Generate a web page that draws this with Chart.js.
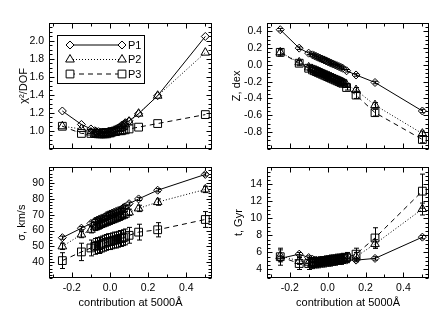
<!DOCTYPE html>
<html>
<head>
<meta charset="utf-8">
<script src="https://cdn.jsdelivr.net/npm/chart.js@4.4.0/dist/chart.umd.min.js"></script>
<style>
  body { margin: 0; background: #fff; width: 436px; height: 312px; position: relative; overflow: hidden; }
  canvas { position: absolute; }
</style>
</head>
<body>
<canvas id="chiChart" width="220" height="160" style="left:0;top:0"></canvas>
<canvas id="sigChart" width="220" height="156" style="left:0;top:156px"></canvas>
<canvas id="metChart" width="216" height="160" style="left:220px;top:0"></canvas>
<canvas id="ageChart" width="216" height="156" style="left:220px;top:156px"></canvas>
<script>
// contribution at 5000A (shared x values of every panel)
const contrib = [-0.25, -0.15, -0.10, -0.08, -0.07, -0.06, -0.05, -0.04, -0.03, -0.02, -0.01, 0.00,
                 0.01, 0.02, 0.03, 0.04, 0.05, 0.06, 0.07, 0.08, 0.10, 0.15, 0.25, 0.50];
const xTickVals = [-0.2, 0.0, 0.2, 0.4];

// chi^2/DOF
const chiP1 = [1.22, 1.07, 1.02, 1.00, 0.99, 0.99, 0.98, 0.98, 0.98, 0.98, 0.99, 0.99, 1.00, 1.01, 1.02, 1.03, 1.04, 1.06, 1.07, 1.09, 1.11, 1.19, 1.39, 2.05];
const chiP2 = [1.05, 1.02, 0.98, 0.96, 0.96, 0.95, 0.95, 0.95, 0.95, 0.95, 0.96, 0.96, 0.97, 0.98, 0.99, 1.00, 1.02, 1.03, 1.05, 1.07, 1.10, 1.19, 1.39, 1.87];
const chiP3 = [1.05, 0.97, 0.97, 0.97, 0.97, 0.97, 0.97, 0.97, 0.98, 0.98, 0.98, 0.98, 0.99, 0.99, 0.99, 1.00, 1.00, 1.00, 1.01, 1.01, 1.02, 1.04, 1.08, 1.18];
const chiTicks = [1.0, 1.2, 1.4, 1.6, 1.8, 2.0];

// Z, dex
const zP1 = [0.42, 0.20, 0.14, 0.12, 0.11, 0.10, 0.09, 0.08, 0.07, 0.06, 0.05, 0.04, 0.03, 0.02, 0.01, 0.00, -0.01, -0.02, -0.03, -0.04, -0.07, -0.12, -0.21, -0.55];
const zP2 = [0.15, 0.03, -0.03, -0.05, -0.06, -0.07, -0.08, -0.09, -0.10, -0.11, -0.12, -0.13, -0.14, -0.15, -0.16, -0.17, -0.18, -0.19, -0.20, -0.21, -0.24, -0.30, -0.48, -0.82];
const zP3 = [0.15, 0.02, -0.04, -0.06, -0.07, -0.08, -0.09, -0.10, -0.11, -0.12, -0.13, -0.14, -0.15, -0.16, -0.17, -0.18, -0.19, -0.20, -0.21, -0.22, -0.27, -0.36, -0.57, -0.89];
const zErrP1 = [0.015, 0.015, 0.015, 0.015, 0.015, 0.015, 0.015, 0.015, 0.015, 0.015, 0.015, 0.015, 0.015, 0.015, 0.015, 0.015, 0.015, 0.015, 0.015, 0.015, 0.015, 0.015, 0.015, 0.02];
const zErrP2 = [0.03, 0.02, 0.02, 0.02, 0.02, 0.02, 0.02, 0.02, 0.02, 0.02, 0.02, 0.02, 0.02, 0.02, 0.02, 0.02, 0.02, 0.02, 0.02, 0.02, 0.02, 0.03, 0.03, 0.03];
const zErrP3 = [0.045, 0.03, 0.03, 0.03, 0.03, 0.03, 0.03, 0.03, 0.03, 0.03, 0.03, 0.03, 0.03, 0.03, 0.03, 0.03, 0.03, 0.03, 0.03, 0.03, 0.03, 0.04, 0.04, 0.04];
const zTicks = [-0.8, -0.6, -0.4, -0.2, 0.0, 0.2, 0.4];

// sigma, km/s
const sigP1 = [55.5, 61.5, 64.5, 66, 66.5, 67, 67.5, 68, 68.5, 69.5, 70, 70.5, 71, 71.5, 72, 72.5, 73, 73.5, 74.5, 75, 77, 80, 85.5, 95.5];
const sigP2 = [50, 57.5, 60.5, 62, 62.5, 63, 63.5, 64, 64.5, 65, 65.5, 66, 66.5, 67, 67.5, 68, 68.5, 69, 69.5, 70, 71.5, 74, 78, 86];
const sigP3 = [41, 46.5, 49, 50, 50.5, 50.5, 51, 51.5, 52, 52.5, 53, 53, 53.5, 54, 54, 54.5, 55, 55, 55.5, 56, 57, 59, 60.5, 67];
const sigErrP1 = [1, 1, 1, 1, 1, 1, 1, 1, 1, 1, 1, 1, 1, 1, 1, 1, 1, 1, 1, 1, 1, 1, 1, 1];
const sigErrP2 = [2, 2, 2, 2, 2, 2, 2, 2, 2, 2, 2, 2, 2, 2, 2, 2, 2, 2, 2, 2, 2, 2, 2, 2];
const sigErrP3 = [5, 5.5, 5, 5, 5, 5, 5, 5, 5, 5, 5, 5, 5, 5, 5, 5, 5, 5, 5, 5, 5, 5, 4.5, 5];
const sigTicks = [40, 50, 60, 70, 80, 90];

// t, Gyr
const ageP1 = [5.3, 5.8, 5.4, 5.2, 5.1, 5.1, 5.0, 5.0, 5.0, 5.0, 5.0, 5.0, 5.0, 5.0, 5.0, 5.0, 5.0, 5.0, 5.1, 5.1, 5.1, 5.1, 5.3, 7.8];
const ageP2 = [5.6, 5.0, 4.8, 4.8, 4.8, 4.8, 4.9, 4.9, 4.9, 5.0, 5.0, 5.0, 5.1, 5.1, 5.1, 5.2, 5.2, 5.2, 5.3, 5.3, 5.4, 5.5, 7.0, 11.1];
const ageP3 = [5.5, 4.7, 4.7, 4.7, 4.8, 4.8, 4.8, 4.9, 4.9, 4.9, 5.0, 5.0, 5.0, 5.1, 5.1, 5.1, 5.2, 5.2, 5.2, 5.3, 5.4, 5.8, 7.7, 13.2];
const ageErrP1 = [0.2, 0.2, 0.2, 0.2, 0.2, 0.2, 0.2, 0.2, 0.2, 0.2, 0.2, 0.2, 0.2, 0.2, 0.2, 0.2, 0.2, 0.2, 0.2, 0.2, 0.2, 0.2, 0.2, 0.2];
const ageErrP2 = [0.7, 0.4, 0.4, 0.4, 0.4, 0.4, 0.4, 0.4, 0.4, 0.4, 0.4, 0.4, 0.4, 0.4, 0.4, 0.4, 0.4, 0.4, 0.4, 0.4, 0.4, 0.5, 0.5, 0.7];
const ageErrP3 = [1.0, 0.7, 0.7, 0.6, 0.6, 0.6, 0.6, 0.6, 0.6, 0.6, 0.6, 0.6, 0.6, 0.6, 0.6, 0.6, 0.6, 0.6, 0.6, 0.6, 0.6, 0.7, 1.2, 2.0];
const ageTicks = [4, 6, 8, 10, 12, 14];

const seriesNames = ['P1', 'P2', 'P3'];

const FONT = '"Liberation Sans", Arial, Helvetica, sans-serif';
Chart.defaults.font.family = FONT;
Chart.defaults.font.size = 10.5;
Chart.defaults.color = '#000';

// marker / line look of P1, P2, P3
const looks = [
    { pointStyle: 'rectRot', radius: 4, dash: [] },
    { pointStyle: 'triangle', radius: 5, dash: [1, 2] },
    { pointStyle: 'rect', radius: 5.5, dash: [5, 4] }
];

// vertical error bars with small caps
const errorBars = {
    id: 'errorBars',
    afterDatasetsDraw(chart) {
        const ctx = chart.ctx;
        const xs = chart.scales.x, ys = chart.scales.y;
        chart.data.datasets.forEach(ds => {
            if (!ds.errors) return;
            ctx.save();
            ctx.strokeStyle = '#000';
            ctx.lineWidth = 1;
            ds.data.forEach((p, i) => {
                const e = ds.errors[i];
                const px = Math.round(xs.getPixelForValue(p.x)) + 0.5;
                const y1 = ys.getPixelForValue(p.y - e);
                const y2 = ys.getPixelForValue(p.y + e);
                ctx.beginPath();
                ctx.moveTo(px, y1); ctx.lineTo(px, y2);
                ctx.moveTo(px - 2.5, y1); ctx.lineTo(px + 2.5, y1);
                ctx.moveTo(px - 2.5, y2); ctx.lineTo(px + 2.5, y2);
                ctx.stroke();
            });
            ctx.restore();
        });
    }
};

// IDL-like box with inward ticks on all four sides
const frameBox = {
    id: 'frameBox',
    afterDraw(chart, args, opts) {
        const { ctx, chartArea: a } = chart;
        const xs = chart.scales.x, ys = chart.scales.y;
        const L = Math.round(a.left) + 0.5, R = Math.round(a.right) - 0.5;
        const T = Math.round(a.top) + 0.5, B = Math.round(a.bottom) - 0.5;
        ctx.save();
        ctx.strokeStyle = '#000';
        ctx.lineWidth = 1;
        ctx.strokeRect(L, T, R - L, B - T);
        ctx.beginPath();
        const xTick = (v, len) => {
            const px = Math.round(xs.getPixelForValue(v)) + 0.5;
            ctx.moveTo(px, B); ctx.lineTo(px, B - len);
            ctx.moveTo(px, T); ctx.lineTo(px, T + len);
        };
        const yTick = (v, len) => {
            const py = Math.round(ys.getPixelForValue(v)) + 0.5;
            ctx.moveTo(L, py); ctx.lineTo(L + len, py);
            ctx.moveTo(R, py); ctx.lineTo(R - len, py);
        };
        for (let v = -0.3; v <= 0.5001; v += 0.1) xTick(v, 3);
        xTickVals.forEach(v => xTick(v, 5));
        for (let v = Math.ceil(ys.min / opts.minor) * opts.minor; v <= ys.max + 1e-9; v += opts.minor) yTick(v, 3);
        opts.ticks.forEach(v => yTick(v, 5));
        ctx.stroke();
        ctx.restore();
    }
};

// legend box: symbol - line - symbol, name
const lineLegend = {
    id: 'lineLegend',
    afterDraw(chart, args, opts) {
        if (!opts.show) return;
        const { ctx, chartArea: a } = chart;
        const bx = a.left + 8, by = a.top + 12;
        ctx.save();
        ctx.strokeStyle = '#000';
        ctx.lineWidth = 1;
        ctx.strokeRect(Math.round(bx) + 0.5, Math.round(by) + 0.5, 87, 48);
        chart.data.datasets.forEach((ds, i) => {
            const y = by + 10 + i * 14.5;
            const x1 = bx + 13, x2 = bx + 65;
            ctx.setLineDash(ds.borderDash || []);
            ctx.beginPath();
            ctx.moveTo(x1, y); ctx.lineTo(x2, y);
            ctx.stroke();
            ctx.setLineDash([]);
            ctx.fillStyle = 'rgba(255,255,255,1)';
            [x1, x2].forEach(x => {
                Chart.helpers.drawPoint(ctx, {
                    pointStyle: ds.pointStyle, radius: ds.pointRadius,
                    borderWidth: 1, rotation: 0
                }, x, y);
            });
            ctx.fillStyle = '#000';
            ctx.font = '11px ' + FONT;
            ctx.textBaseline = 'middle';
            ctx.textAlign = 'left';
            ctx.fillText(ds.label, x2 + 6, y + 0.5);
        });
        ctx.restore();
    }
};

function makePanel(id, p) {
    const datasets = p.values.map((vals, i) => ({
        label: seriesNames[i],
        data: contrib.map((x, j) => ({ x: x, y: vals[j] })),
        errors: p.errors ? p.errors[i] : null,
        showLine: true,
        borderColor: '#000',
        borderWidth: 1,
        borderDash: looks[i].dash,
        backgroundColor: 'rgba(0,0,0,0)',
        pointStyle: looks[i].pointStyle,
        pointRadius: looks[i].radius,
        pointBorderColor: '#000',
        pointBackgroundColor: 'rgba(0,0,0,0)',
        pointBorderWidth: 1
    }));

    return new Chart(document.getElementById(id), {
        type: 'scatter',
        data: { datasets },
        options: {
            responsive: false,
            animation: false,
            events: [],
            layout: { autoPadding: false, padding: { top: p.top, right: p.right, left: 0, bottom: 0 } },
            scales: {
                x: {
                    type: 'linear',
                    min: -0.32,
                    max: 0.535,
                    grid: { display: false, drawTicks: false },
                    border: { display: false },
                    afterBuildTicks: s => { s.ticks = xTickVals.map(v => ({ value: v })); },
                    afterFit: s => { s.height = p.xHeight; },
                    ticks: {
                        display: p.showX,
                        padding: 4,
                        maxRotation: 0,
                        callback: v => v.toFixed(1)
                    },
                    title: {
                        display: p.showX,
                        text: 'contribution at 5000Å',
                        font: { size: 11 },
                        padding: { top: 0, bottom: 2 }
                    }
                },
                y: {
                    min: p.yMin,
                    max: p.yMax,
                    grid: { display: false, drawTicks: false },
                    border: { display: false },
                    afterBuildTicks: s => { s.ticks = p.yTicks.map(v => ({ value: v })); },
                    afterFit: s => { s.width = p.yWidth; },
                    ticks: {
                        padding: p.labelPad,
                        callback: p.fmt
                    },
                    title: {
                        display: true,
                        text: p.yTitle,
                        font: { size: 11 },
                        padding: { top: p.titlePad, bottom: 0 }
                    }
                }
            },
            plugins: {
                legend: { display: false },
                tooltip: { enabled: false },
                frameBox: { ticks: p.yTicks, minor: p.minor },
                lineLegend: { show: !!p.legend }
            }
        },
        plugins: [errorBars, frameBox, lineLegend]
    });
}

makePanel('chiChart', {
    values: [chiP1, chiP2, chiP3], yMin: 0.8, yMax: 2.2, yTicks: chiTicks, minor: 0.05,
    fmt: v => v.toFixed(1), yTitle: 'χ²/DOF', titlePad: 17, labelPad: 5, yWidth: 49,
    top: 23, right: 8, xHeight: 4, showX: false, legend: true
});
makePanel('sigChart', {
    values: [sigP1, sigP2, sigP3], errors: [sigErrP1, sigErrP2, sigErrP3],
    yMin: 30, yMax: 100, yTicks: sigTicks, minor: 2,
    fmt: v => v.toFixed(0), yTitle: 'σ, km/s', titlePad: 15, labelPad: 5, yWidth: 49,
    top: 0, right: 8, xHeight: 34, showX: true
});
makePanel('metChart', {
    values: [zP1, zP2, zP3], errors: [zErrP1, zErrP2, zErrP3],
    yMin: -1.0, yMax: 0.5, yTicks: zTicks, minor: 0.05,
    fmt: v => v.toFixed(1), yTitle: 'Z, dex', titlePad: 10, labelPad: 5, yWidth: 47,
    top: 23, right: 7, xHeight: 4, showX: false
});
makePanel('ageChart', {
    values: [ageP1, ageP2, ageP3], errors: [ageErrP1, ageErrP2, ageErrP3],
    yMin: 3, yMax: 16, yTicks: ageTicks, minor: 0.5,
    fmt: v => v.toFixed(0), yTitle: 't, Gyr', titlePad: 12, labelPad: 5, yWidth: 47,
    top: 0, right: 7, xHeight: 34, showX: true
});
</script>
</body>
</html>
